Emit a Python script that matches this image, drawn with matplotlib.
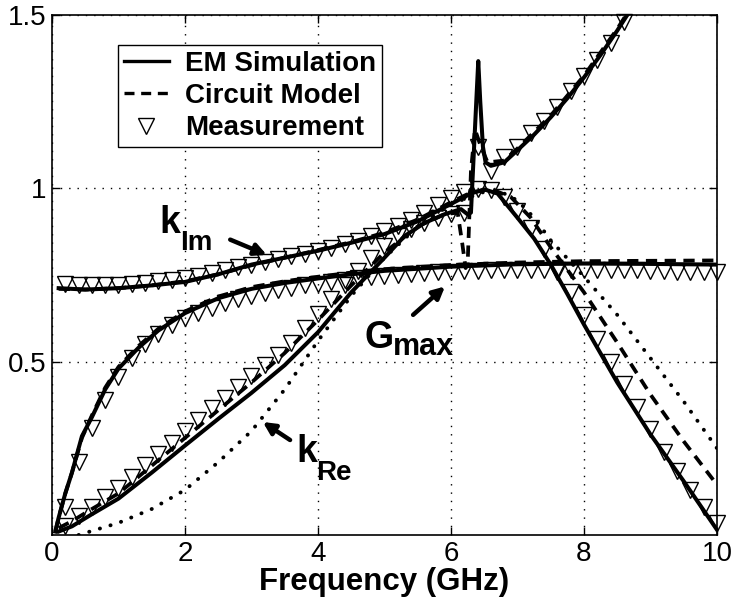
import matplotlib
matplotlib.use('Agg')
import matplotlib.pyplot as plt
from matplotlib.lines import Line2D

plt.rcParams['font.family'] = ['Liberation Sans', 'DejaVu Sans']

# ---------------- data ----------------
freq_meas = [0.2, 0.4, 0.6, 0.8, 1.0, 1.2, 1.4, 1.6, 1.8, 2.0,
             2.2, 2.4, 2.6, 2.8, 3.0, 3.2, 3.4, 3.6, 3.8, 4.0,
             4.2, 4.4, 4.6, 4.8, 5.0, 5.2, 5.4, 5.6, 5.8, 6.0,
             6.2, 6.4, 6.6, 6.8, 7.0, 7.2, 7.4, 7.6, 7.8, 8.0,
             8.2, 8.4, 8.6, 8.8, 9.0, 9.2, 9.4, 9.6, 9.8, 10.0]
meas_gmax = [0.08, 0.21, 0.31, 0.39, 0.455, 0.51, 0.55, 0.58, 0.605, 0.625,
             0.64, 0.655, 0.668, 0.68, 0.69, 0.698, 0.706, 0.713, 0.72, 0.725,
             0.73, 0.735, 0.74, 0.744, 0.748, 0.751, 0.754, 0.756, 0.758, 0.76,
             0.761, 0.762, 0.763, 0.764, 0.764, 0.765, 0.765, 0.765, 0.765, 0.765,
             0.764, 0.764, 0.763, 0.763, 0.762, 0.761, 0.76, 0.76, 0.759, 0.758]
meas_kim = [0.725, 0.722, 0.72, 0.72, 0.722, 0.725, 0.728, 0.732, 0.737, 0.742,
            0.748, 0.755, 0.763, 0.772, 0.78, 0.788, 0.796, 0.804, 0.812, 0.82,
            0.829, 0.838, 0.849, 0.862, 0.876, 0.892, 0.91, 0.93, 0.952, 0.972,
            0.988, 0.998, 0.995, 0.975, 0.935, 0.885, 0.825, 0.76, 0.70, 0.635,
            0.565, 0.50, 0.435, 0.37, 0.305, 0.24, 0.185, 0.13, 0.08, 0.035]
freq_meas_kre = freq_meas[:43]
meas_kre = [0.025, 0.055, 0.08, 0.11, 0.137, 0.168, 0.203, 0.235, 0.265, 0.30,
            0.333, 0.365, 0.396, 0.427, 0.46, 0.49, 0.52, 0.555, 0.598, 0.638,
            0.68, 0.722, 0.762, 0.80, 0.835, 0.862, 0.883, 0.90, 0.915, 0.925,
            0.93, 1.12, 1.05, 1.09, 1.12, 1.16, 1.195, 1.235, 1.28, 1.325,
            1.37, 1.42, 1.48]

# EM simulation (solid)
em_kim_f = [0.1, 0.5, 1.0, 1.5, 2.0, 2.5, 3.0, 3.5, 4.0, 4.5, 5.0, 5.5, 6.0, 6.3,
            6.5, 6.7, 7.0, 7.25, 7.5, 7.75, 8.0, 8.5, 9.0, 9.5, 10.0]
em_kim = [0.712, 0.708, 0.712, 0.72, 0.73, 0.752, 0.78, 0.80, 0.82, 0.843, 0.868,
          0.905, 0.955, 0.985, 0.997, 0.985, 0.915, 0.855, 0.78, 0.695, 0.607,
          0.44, 0.29, 0.155, 0.015]
em_kre_f = [0.1, 0.3, 0.6, 1.0, 1.5, 2.0, 2.5, 3.0, 3.5, 4.0, 4.5, 5.0, 5.3, 5.6,
            5.9, 6.15, 6.25, 6.3, 6.33, 6.38, 6.41, 6.44, 6.48, 6.52, 6.6, 6.8,
            7.0, 7.25, 7.5, 7.75, 8.0, 8.25, 8.5, 8.75, 8.85]
em_kre = [0.01, 0.025, 0.06, 0.105, 0.18, 0.258, 0.335, 0.41, 0.49, 0.585, 0.70,
          0.80, 0.862, 0.90, 0.925, 0.94, 0.925, 0.93, 1.05, 1.25, 1.367, 1.25,
          1.12, 1.075, 1.065, 1.075, 1.11, 1.155, 1.205, 1.26, 1.32, 1.385,
          1.455, 1.53, 1.56]
em_gmax_f = [0.05, 0.1, 0.2, 0.3, 0.45, 0.6, 0.8, 1.0, 1.3, 1.6, 2.0, 2.5, 3.0,
             3.5, 4.0, 4.5, 5.0, 6.0, 7.0, 8.0, 9.0, 10.0]
em_gmax = [0.01, 0.05, 0.12, 0.18, 0.285, 0.34, 0.42, 0.48, 0.54, 0.59, 0.64,
           0.683, 0.71, 0.727, 0.74, 0.752, 0.762, 0.774, 0.781, 0.783, 0.782, 0.78]

# Circuit model (dashed)
cm_kim_f = [0.1, 0.5, 1.0, 1.5, 2.0, 2.5, 3.0, 3.5, 4.0, 4.5, 5.0, 5.5, 6.0, 6.3,
            6.6, 6.9, 7.2, 7.5, 8.0, 8.5, 9.0, 9.5, 10.0]
cm_kim = [0.71, 0.708, 0.712, 0.72, 0.732, 0.752, 0.778, 0.80, 0.822, 0.845,
          0.872, 0.91, 0.96, 0.988, 0.998, 0.975, 0.915, 0.83, 0.70, 0.555, 0.405,
          0.27, 0.145]
cm_kre_f = [0.1, 0.3, 0.6, 1.0, 1.5, 2.0, 2.5, 3.0, 3.5, 4.0, 4.5, 5.0, 5.5, 5.9,
            6.1, 6.17, 6.22, 6.25, 6.3, 6.36, 6.45, 6.55, 6.8, 7.0, 7.5, 8.0,
            8.5, 8.8]
cm_kre = [0.02, 0.04, 0.075, 0.12, 0.2, 0.28, 0.36, 0.44, 0.525, 0.62, 0.72,
          0.815, 0.89, 0.925, 0.93, 0.84, 0.77, 0.78, 1.05, 1.17, 1.12, 1.075,
          1.08, 1.115, 1.21, 1.325, 1.46, 1.55]
cm_gmax_f = [0.05, 0.1, 0.2, 0.3, 0.45, 0.6, 0.8, 1.0, 1.3, 1.6, 2.0, 2.5, 3.0,
             3.5, 4.0, 4.5, 5.0, 6.0, 7.0, 8.0, 9.0, 10.0]
cm_gmax = [0.01, 0.05, 0.12, 0.18, 0.28, 0.345, 0.425, 0.485, 0.545, 0.595, 0.645,
           0.688, 0.715, 0.732, 0.745, 0.757, 0.767, 0.779, 0.786, 0.79, 0.791, 0.792]

# Dotted curve
dot_f = [0.4, 1.0, 1.5, 2.0, 2.5, 3.0, 3.5, 4.0, 4.5, 5.0, 5.5, 6.0, 6.5, 6.8,
         7.0, 7.25, 7.5, 8.0, 8.5, 9.0, 9.5, 10.0]
dot_v = [0.0, 0.035, 0.075, 0.13, 0.21, 0.30, 0.42, 0.56, 0.69, 0.80, 0.89, 0.955,
         0.99, 0.985, 0.965, 0.915, 0.85, 0.745, 0.635, 0.51, 0.385, 0.25]

x_ticks = [0, 2, 4, 6, 8, 10]
y_ticks = [0.5, 1, 1.5]
y_tick_labels = ['0.5', '1', '1.5']
legend_labels = ['EM Simulation', 'Circuit Model', 'Measurement']

# ---------------- figure ----------------
fig = plt.figure(figsize=(7.32, 6.05), dpi=100)
ax = fig.add_axes([52 / 732, 1 - 535 / 605, 665 / 732, 520 / 605])

lw_solid = 2.9
lw_dash = 2.7
dash = (0, (3, 2))

ax.plot(em_kim_f, em_kim, color='k', lw=lw_solid, zorder=3)
ax.plot(em_kre_f, em_kre, color='k', lw=lw_solid, zorder=3)
ax.plot(em_gmax_f, em_gmax, color='k', lw=lw_solid, zorder=3)
ax.plot(cm_kim_f, cm_kim, color='k', lw=lw_dash, ls=dash, zorder=3)
ax.plot(cm_kre_f, cm_kre, color='k', lw=lw_dash, ls=dash, zorder=3)
ax.plot(cm_gmax_f, cm_gmax, color='k', lw=lw_dash, ls=dash, zorder=3)
ax.plot(dot_f, dot_v, color='k', lw=2.8, ls=(0, (0.05, 2.8)),
        dash_capstyle='round', zorder=3)

mk = dict(marker='v', ms=11, mfc='none', mec='k', mew=1.0, ls='none',
          clip_on=False, zorder=4)
ax.plot(freq_meas, meas_gmax, **mk)
ax.plot(freq_meas, meas_kim, **mk)
ax.plot(freq_meas_kre, meas_kre, **mk)

ax.set_xlim(0, 10)
ax.set_ylim(0, 1.5)
ax.set_xticks(x_ticks)
ax.set_yticks(y_ticks)
ax.set_yticklabels(y_tick_labels)
ax.grid(True, color='k', lw=1.0, ls=(0, (1, 5)))
ax.set_axisbelow(True)
ax.tick_params(direction='in', length=6, width=1.0, top=True, right=True,
               labelsize=20, pad=4)
ax.tick_params(axis='y', pad=4)
for s in ax.spines.values():
    s.set_linewidth(1.2)

ax.set_xlabel('Frequency (GHz)', fontsize=22.5, fontweight='bold', labelpad=0)

# legend
handles = [Line2D([], [], color='k', lw=2.4),
           Line2D([], [], color='k', lw=2.4, ls=dash),
           Line2D([], [], marker='v', ms=11, mfc='none', mec='k', mew=1.0, ls='none')]
leg = ax.legend(handles, legend_labels, loc='upper left',
                bbox_to_anchor=(66 / 665, (535 - 45) / 520), borderaxespad=0,
                prop=dict(size=20, weight='bold'), handlelength=1.6,
                handletextpad=0.6, borderpad=0.22, labelspacing=0.22,
                fancybox=False, framealpha=1, edgecolor='k')
leg.get_frame().set_linewidth(1.0)

# annotations
arrow = dict(arrowstyle='-|>,head_length=0.7,head_width=0.35', lw=3.2,
             color='k', shrinkA=0, shrinkB=0)
ax.annotate('', xy=(3.23, 0.808), xytext=(2.68, 0.852), arrowprops=arrow)
ax.annotate('', xy=(5.91, 0.717), xytext=(5.43, 0.635), arrowprops=arrow)
ax.annotate('', xy=(3.17, 0.326), xytext=(3.58, 0.274), arrowprops=arrow)

tb = dict(fontweight='bold', ha='left', va='baseline')
ax.text(1.62, 0.872, 'k', fontsize=27, **tb)
ax.text(1.93, 0.823, 'Im', fontsize=20, **tb)
ax.text(4.70, 0.54, 'G', fontsize=27, **tb)
ax.text(5.13, 0.52, 'max', fontsize=22, **tb)
ax.text(3.68, 0.211, 'k', fontsize=27, **tb)
ax.text(3.97, 0.159, 'Re', fontsize=20, **tb)

fig.savefig('out.png', dpi=100)
